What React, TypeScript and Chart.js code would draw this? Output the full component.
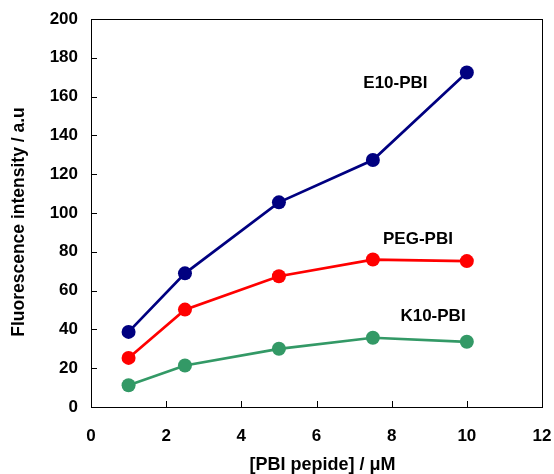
import React, { useEffect, useRef } from "react";
import { Chart, registerables } from "chart.js";

Chart.register(...registerables);

const concentrations = [1, 2.5, 5, 7.5, 10];
const e10Values = [38.7, 68.9, 105.5, 127.3, 172.4];
const pegValues = [25.3, 50.2, 67.4, 76.0, 75.2];
const k10Values = [11.2, 21.4, 30.0, 35.7, 33.6];
const seriesNames = ["E10-PBI", "PEG-PBI", "K10-PBI"];
const labelPositions = [
  { x: 8.1, y: 167 },
  { x: 8.7, y: 86.5 },
  { x: 9.1, y: 46.5 },
];
const xTickValues = [0, 2, 4, 6, 8, 10, 12];
const yTickValues = [0, 20, 40, 60, 80, 100, 120, 140, 160, 180, 200];
const xTitle = "[PBI pepide] / μM";
const yTitle = "Fluorescence intensity / a.u";
const colors = ["#000080", "#FF0000", "#339966"];
const FONT = "'Liberation Sans', Arial, sans-serif";

const framePlugin = {
  id: "frame",
  afterDatasetsDraw(chart: any) {
    const { ctx, chartArea, scales } = chart;
    const { left, right, top, bottom } = chartArea;
    ctx.save();
    ctx.strokeStyle = "#000";
    ctx.lineWidth = 1;
    ctx.strokeRect(left + 0.5, top + 0.5, right - left, bottom - top);
    ctx.beginPath();
    for (const v of yTickValues) {
      const y = Math.round(scales.y.getPixelForValue(v)) + 0.5;
      ctx.moveTo(left, y);
      ctx.lineTo(left + 6, y);
    }
    for (const v of xTickValues) {
      const x = Math.round(scales.x.getPixelForValue(v)) + 0.5;
      ctx.moveTo(x, bottom);
      ctx.lineTo(x, bottom - 6);
    }
    ctx.stroke();
    ctx.fillStyle = "#000";
    ctx.font = `bold 17px ${FONT}`;
    ctx.textAlign = "center";
    ctx.textBaseline = "middle";
    seriesNames.forEach((name, i) => {
      const p = labelPositions[i];
      ctx.fillText(name, scales.x.getPixelForValue(p.x), scales.y.getPixelForValue(p.y));
    });
    // axis titles
    ctx.font = `bold 18px ${FONT}`;
    ctx.fillText(xTitle, (left + right) / 2 + 6, bottom + 58);
    ctx.translate(19, (top + bottom) / 2 + 9);
    ctx.rotate(-Math.PI / 2);
    ctx.font = `bold 17.5px ${FONT}`;
    ctx.fillText(yTitle, 0, 0);
    ctx.restore();
  },
};

export default function App() {
  const ref = useRef<HTMLCanvasElement>(null);
  useEffect(() => {
    document.body.style.margin = "0";
    const mk = (data: number[], i: number) => ({
      label: seriesNames[i],
      data: concentrations.map((x, k) => ({ x, y: data[k] })),
      borderColor: colors[i],
      backgroundColor: colors[i],
      pointBackgroundColor: colors[i],
      pointBorderColor: colors[i],
      borderWidth: 2.7,
      pointRadius: 7,
      pointBorderWidth: 0,
      tension: 0,
    });
    const chart = new Chart(ref.current!, {
      type: "line",
      data: { datasets: [mk(e10Values, 0), mk(pegValues, 1), mk(k10Values, 2)] },
      options: {
        animation: false,
        responsive: false,
        layout: { padding: { top: 19, right: 12, left: 0, bottom: 0 } },
        plugins: { legend: { display: false }, tooltip: { enabled: false } },
        scales: {
          x: {
            type: "linear",
            min: 0,
            max: 12,
            afterFit: (s: any) => { s.height = 67; s.paddingLeft = 0; s.paddingRight = 0; },
            afterBuildTicks: (s: any) => { s.ticks = xTickValues.map((v) => ({ value: v })); },
            grid: { display: false, drawTicks: false },
            border: { display: false },
            ticks: { color: "#000", font: { family: FONT, size: 17, weight: "bold" }, padding: 19, maxRotation: 0 },
            title: { display: false },
          },
          y: {
            type: "linear",
            min: 0,
            max: 200,
            afterFit: (s: any) => { s.width = 91; s.paddingTop = 0; s.paddingBottom = 0; },
            afterBuildTicks: (s: any) => { s.ticks = yTickValues.map((v) => ({ value: v })); },
            grid: { display: false, drawTicks: false },
            border: { display: false },
            ticks: { color: "#000", font: { family: FONT, size: 17, weight: "bold" }, padding: 13 },
            title: { display: false },
          },
        },
      },
      plugins: [framePlugin],
    } as any);
    return () => chart.destroy();
  }, []);
  return <canvas ref={ref} width={554} height={474} style={{ display: "block" }} />;
}
